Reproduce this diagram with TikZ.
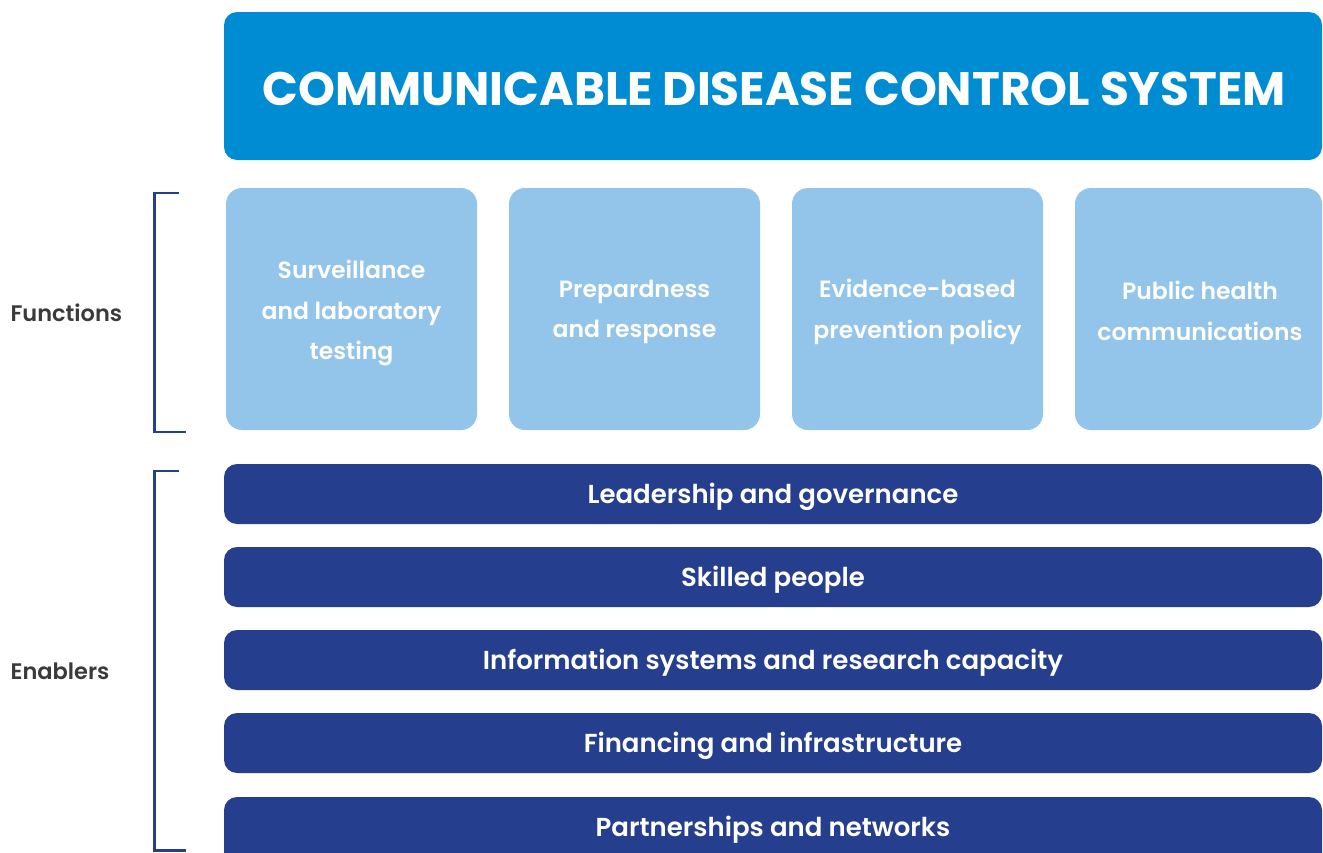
\documentclass[tikz,border=0pt]{standalone}
\usepackage{fontspec}
\setmainfont{Poppins}[BoldFont=* SemiBold]
\newfontfamily\titlefont{Poppins Bold}
\definecolor{banner}{HTML}{008CD3}
\definecolor{lightb}{HTML}{93C4EA}
\definecolor{darkb}{HTML}{253E8D}
\definecolor{labelc}{HTML}{3A3A3A}
\begin{document}
\begin{tikzpicture}[x=1pt,y=-1pt,
  bannerbox/.style={fill=banner,rounded corners=13pt},
  funcbox/.style={fill=lightb,rounded corners=16pt},
  enabbox/.style={fill=darkb,rounded corners=13pt},
  functext/.style={text=white,font=\fontsize{23.5}{40.5}\selectfont\bfseries,align=center},
  enabtext/.style={text=white,font=\fontsize{26}{30}\selectfont\bfseries},
  sidelabel/.style={text=labelc,font=\fontsize{22.5}{26}\selectfont\bfseries,anchor=west},
  brack/.style={draw=darkb,line width=2.6pt}]
\useasboundingbox (0,0) rectangle (1323,852);
% banner
\path[bannerbox] (224,12) rectangle (1322,160);
\node[text=white,font=\fontsize{47}{54}\selectfont\titlefont] (title) at (774,89) {COMMUNICABLE DISEASE CONTROL SYSTEM};
% function boxes
\path[funcbox] (226,188) rectangle (477,430);
\path[funcbox] (509,188) rectangle (760,430);
\path[funcbox] (792,188) rectangle (1043,430);
\path[funcbox] (1075,188) rectangle (1322,430);
\node[functext] (f1) at (351.5,313) {Surveillance\\and laboratory\\testing};
\node[functext] (f2) at (634.5,312) {Prepardness\\and response};
\node[functext] (f3) at (917.5,312) {Evidence-based\\prevention policy};
\node[functext] (f4) at (1200,311) {Public health\\communications};
% enabler bars
\path[enabbox] (224,464) rectangle (1322,524);
\path[enabbox] (224,547) rectangle (1322,607);
\path[enabbox] (224,630) rectangle (1322,690);
\path[enabbox] (224,713) rectangle (1322,773);
\path[enabbox] (224,797) rectangle (1322,882);
\node[enabtext] (e1) at (773,497) {Leadership and governance};
\node[enabtext] (e2) at (773,580) {Skilled people};
\node[enabtext] (e3) at (773,663) {Information systems and research capacity};
\node[enabtext] (e4) at (773,746) {Financing and infrastructure};
\node[enabtext] (e5) at (773,830) {Partnerships and networks};
% brackets
\draw[brack] (179,193) -- (154.5,193) -- (154.5,432) -- (186,432);
\draw[brack] (179,471) -- (154.5,471) -- (154.5,850.5) -- (186,850.5);
% side labels
\node[sidelabel] (lf) at (7,313) {Functions};
\node[sidelabel] (le) at (7,671) {Enablers};
\end{tikzpicture}
\end{document}
